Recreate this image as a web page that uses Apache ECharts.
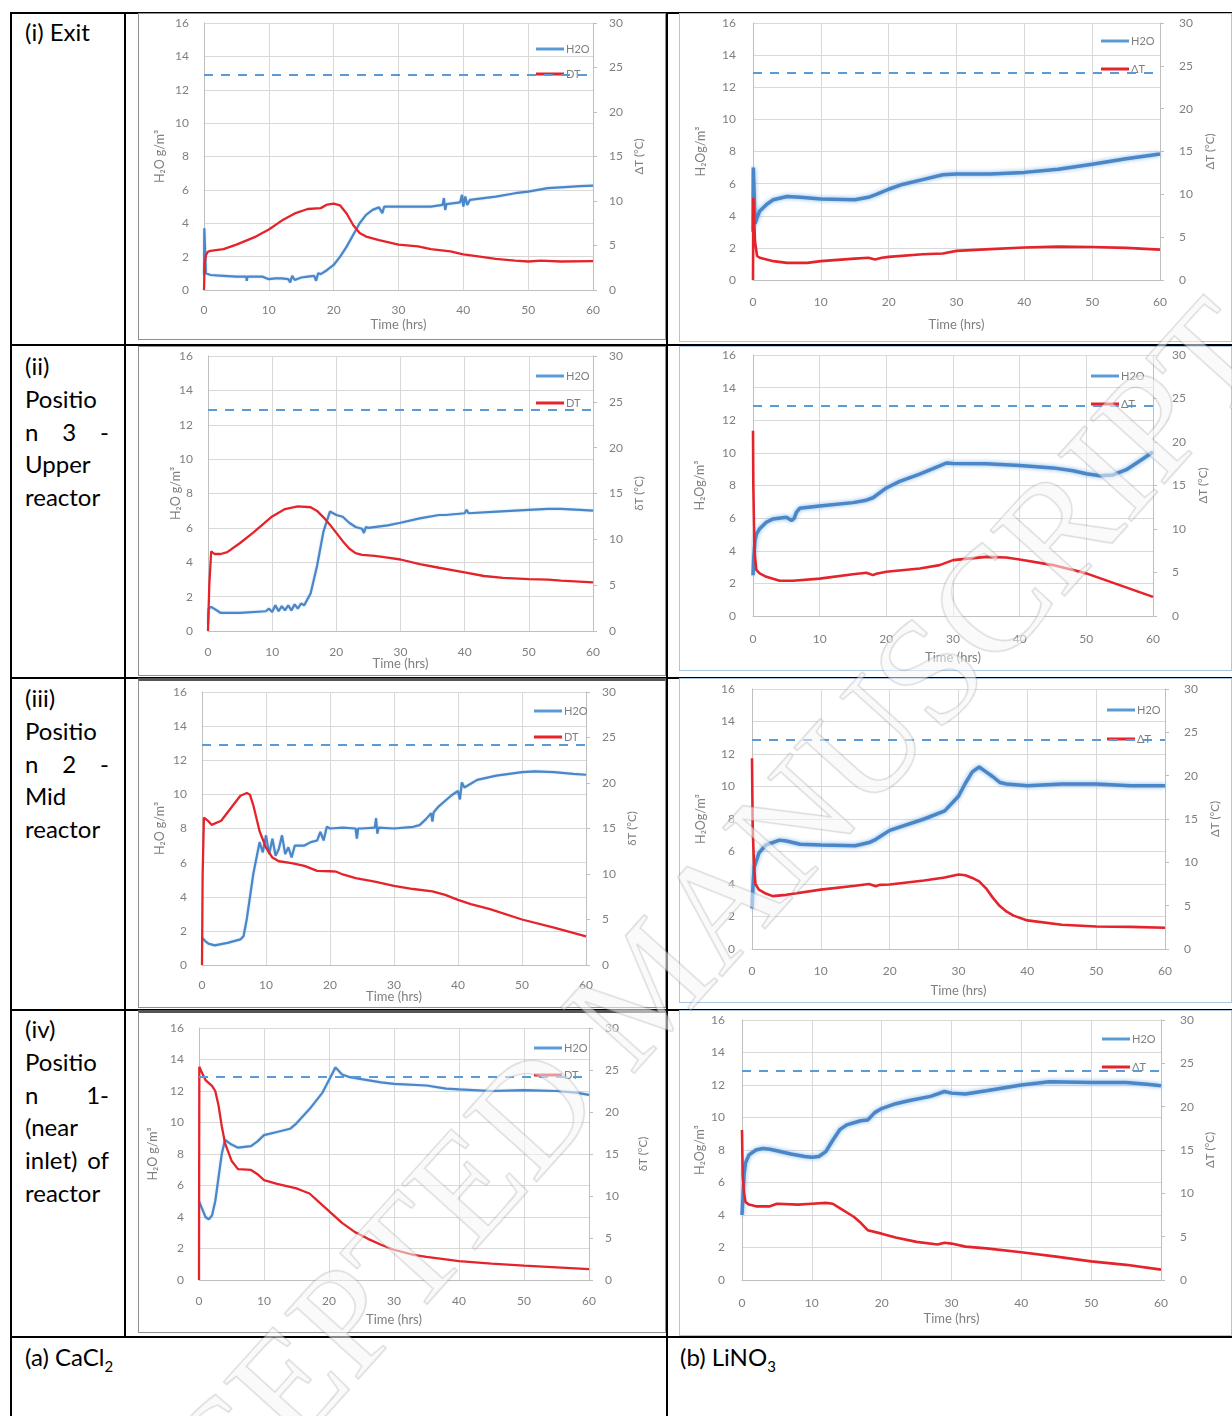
<!DOCTYPE html>
<html>
<head>
<meta charset="utf-8">
<script src="https://cdn.jsdelivr.net/npm/echarts/dist/echarts.min.js"></script>
<style>
  body { margin: 0; width: 1232px; height: 1416px; position: relative; background: #fff; overflow: hidden; font-family: Lato, "Open Sans", sans-serif; }
  .hl { position: absolute; height: 2px; background: #000; }
  .vl { position: absolute; width: 2px; background: #000; }
  .cell { position: absolute; left: 25px; width: 84px; font-size: 24px; line-height: 32.8px; color: #000; white-space: nowrap; }
  .cell div.j { text-align: justify; text-align-last: justify; }
  .bottom { position: absolute; font-size: 24px; line-height: 32px; color: #000; }
  .chart { position: absolute; box-sizing: border-box; border: 1px solid #9a9a9a; background: #fff; }
  .watermark { position: absolute; left: 645px; top: 985px; transform: translate(-50%, -50%) rotate(-48deg);
    font: 150px "Liberation Serif", "DejaVu Serif", serif; color: rgba(245,245,245,0.55);
    -webkit-text-stroke: 1.4px rgba(0,0,0,0.14); white-space: nowrap; pointer-events: none; z-index: 10; }
</style>
</head>
<body>

<!-- table rules -->
<div class="hl" style="left:10px;top:12px;width:1222px"></div>
<div class="hl" style="left:10px;top:344px;width:1222px"></div>
<div class="hl" style="left:10px;top:677px;width:1222px"></div>
<div class="hl" style="left:10px;top:1009px;width:1222px"></div>
<div class="hl" style="left:10px;top:1336px;width:1222px"></div>
<div class="vl" style="left:10px;top:12px;height:1404px"></div>
<div class="vl" style="left:124px;top:12px;height:1325px"></div>
<div class="vl" style="left:666px;top:12px;height:1404px"></div>

<!-- row labels -->
<div class="cell" style="top:16px"><div>(i) Exit</div></div>
<div class="cell" style="top:350px"><div>(ii)</div><div>Positio</div><div class="j">n 3 -</div><div>Upper</div><div>reactor</div></div>
<div class="cell" style="top:682px"><div>(iii)</div><div>Positio</div><div class="j">n 2 -</div><div>Mid</div><div>reactor</div></div>
<div class="cell" style="top:1013px"><div>(iv)</div><div>Positio</div><div class="j">n 1-</div><div>(near</div><div class="j">inlet) of</div><div>reactor</div></div>
<div class="bottom" style="left:25px;top:1341px">(a) CaCl<sub style="font-size:15px">2</sub></div>
<div class="bottom" style="left:680px;top:1341px">(b) LiNO<sub style="font-size:15px">3</sub></div>

<div id="charts"></div>
<div class="watermark">ACCEPTED MANUSCRIPT</div>

<script>
// ---- data: [time (hrs), value] ----
// H2O in g/m3 (left axis), temperature lift in degC (right axis)
const saturationH2O = 12.9;

const h2oExitCaCl2 = [[0,0.9],[0.05,3.7],[0.3,1.0],[1,0.9],[3,0.85],[5,0.8],[6.5,0.8],[6.6,0.55],[6.7,0.8],[9,0.8],[10,0.65],[11,0.7],[12,0.7],[13,0.65],[13.3,0.45],[13.6,0.85],[14,0.6],[15,0.75],[16,0.8],[17,0.85],[17.3,0.55],[17.6,1.0],[18,0.95],[19,1.2],[20,1.5],[21,2.0],[22,2.6],[23,3.3],[24,4.0],[25,4.5],[26,4.8],[27,4.95],[27.5,4.6],[27.8,5.0],[30,5.0],[33,5.0],[35,5.0],[36.8,5.1],[37,5.5],[37.2,4.8],[37.4,5.15],[39.5,5.25],[39.8,5.7],[40,5.0],[40.3,5.6],[40.6,5.1],[41,5.4],[45,5.6],[48,5.8],[50,5.9],[53,6.1],[55,6.15],[58,6.22],[60,6.25]];
const dtExitCaCl2 = [[0,0],[0.1,3.0],[0.3,3.9],[0.6,4.3],[1,4.4],[3,4.6],[5,5.1],[8,6.0],[10,6.8],[12,7.8],[14,8.6],[16,9.1],[18,9.2],[19,9.6],[20,9.7],[21,9.5],[22,8.6],[23,7.3],[24,6.4],[25,6.0],[27,5.6],[30,5.1],[33,4.9],[35,4.6],[38,4.35],[40,4.0],[42,3.8],[45,3.5],[48,3.3],[50,3.2],[52,3.3],[55,3.2],[60,3.25]];

const h2oExitLiNO3 = [[0,3.0],[0.05,7.0],[0.3,3.5],[0.7,4.0],[1,4.3],[2,4.7],[3,5.0],[5,5.2],[7,5.15],[10,5.05],[15,5.0],[17,5.15],[18,5.3],[20,5.65],[22,5.95],[25,6.25],[28,6.55],[30,6.6],[35,6.6],[40,6.7],[45,6.9],[50,7.2],[55,7.55],[60,7.85]];
const dtExitLiNO3 = [[0,0],[0.05,9.6],[0.3,4.5],[0.6,2.8],[1,2.6],[3,2.2],[5,2.0],[8,2.0],[10,2.2],[15,2.5],[17,2.6],[18,2.4],[19,2.6],[20,2.7],[25,3.0],[28,3.1],[30,3.4],[35,3.6],[40,3.8],[45,3.9],[50,3.85],[55,3.75],[60,3.55]];

const h2oUpperCaCl2 = [[0,0.4],[0.1,1.3],[0.5,1.4],[2,1.05],[5,1.05],[9,1.15],[9.5,1.3],[10,1.1],[10.5,1.5],[11,1.15],[11.5,1.45],[12,1.2],[12.5,1.5],[13,1.2],[13.5,1.55],[14,1.3],[14.5,1.6],[15,1.5],[16,2.2],[17,3.8],[18,5.8],[19,6.95],[20,6.75],[21,6.65],[22,6.3],[23,6.05],[24,5.95],[24.3,5.7],[24.6,6.05],[25,6.0],[28,6.15],[30,6.3],[33,6.55],[36,6.75],[37,6.75],[40,6.85],[40.3,7.05],[40.6,6.85],[45,6.95],[50,7.05],[53,7.1],[55,7.1],[58,7.05],[60,7.0]];
const dtUpperCaCl2 = [[0,0],[0.2,5],[0.5,8.7],[1,8.4],[2,8.4],[3,8.6],[5,9.6],[7,10.7],[9,11.9],[10,12.5],[12,13.3],[14,13.6],[16,13.5],[17,13.1],[18,12.4],[19,11.6],[20,10.7],[21,9.8],[22,9.0],[23,8.5],[24,8.3],[26,8.2],[28,8.0],[30,7.8],[33,7.3],[36,6.9],[40,6.4],[43,6.0],[46,5.8],[50,5.65],[53,5.6],[55,5.5],[60,5.3]];

const h2oUpperLiNO3 = [[0,2.5],[0.1,3.5],[0.3,4.6],[0.5,5.0],[1,5.35],[2,5.75],[3,5.95],[5,6.05],[5.8,5.85],[6.2,6.0],[6.5,6.35],[7,6.6],[10,6.75],[15,6.95],[17,7.1],[18,7.25],[20,7.85],[22,8.25],[25,8.7],[28,9.2],[29,9.38],[30,9.35],[35,9.33],[40,9.22],[45,9.08],[48,8.9],[50,8.72],[52,8.6],[54,8.65],[56,8.97],[58,9.5],[60,10.05]];
const dtUpperLiNO3 = [[0,21.3],[0.05,15],[0.2,8],[0.3,6.8],[0.5,5.3],[1,4.9],[2,4.5],[4,4.05],[6,4.05],[10,4.3],[15,4.8],[17,4.97],[18,4.7],[18.5,4.85],[20,5.08],[25,5.46],[28,5.85],[30,6.42],[35,6.8],[38,6.73],[40,6.5],[45,5.85],[50,4.9],[55,3.55],[60,2.2]];

const h2oMidCaCl2 = [[0,1.6],[0.5,1.4],[1,1.25],[2,1.15],[4,1.3],[6,1.5],[6.5,1.7],[7,2.7],[8,5.3],[9,7.2],[9.5,6.6],[10,7.6],[10.5,6.5],[11,7.4],[11.5,6.4],[12,6.8],[12.5,7.6],[13,6.5],[13.5,6.9],[14,6.3],[14.5,7.0],[16,7.0],[17,7.2],[18,7.3],[18.5,7.8],[19,7.3],[19.5,8.1],[20,8.0],[22,8.05],[24,8.0],[24.2,7.4],[24.4,8.0],[25,8.0],[27,8.05],[27.2,8.6],[27.4,7.7],[27.6,8.05],[30,8.0],[33,8.1],[34,8.2],[35,8.55],[35.8,8.9],[36,8.4],[36.2,8.95],[37,9.3],[39,9.95],[40,10.2],[40.3,9.7],[40.6,10.7],[41,10.4],[43,10.85],[46,11.1],[50,11.3],[52,11.35],[55,11.3],[58,11.2],[60,11.15]];
const dtMidCaCl2 = [[0,0],[0.1,10],[0.3,16.2],[0.5,16.4],[1,15.8],[1.5,15.4],[3,15.85],[5,17.7],[6,18.6],[7,18.9],[7.5,18.7],[8,17.6],[9,14.7],[10,12.9],[11,11.8],[12,11.4],[14,11.2],[16,10.9],[18,10.35],[20,10.3],[21,10.25],[22,9.95],[24,9.55],[27,9.15],[30,8.7],[33,8.35],[36,8.1],[38,7.7],[40,7.15],[42,6.7],[45,6.15],[50,5.0],[55,4.1],[60,3.15]];

const h2oMidLiNO3 = [[0,2.5],[0.1,3.5],[0.3,5.0],[1,5.9],[2,6.4],[4,6.7],[5,6.65],[7,6.45],[10,6.4],[15,6.35],[17,6.55],[18,6.75],[20,7.3],[25,8.0],[28,8.5],[30,9.4],[31,10.2],[32,10.9],[33,11.2],[34,10.9],[35,10.6],[36,10.25],[37,10.15],[40,10.05],[45,10.15],[50,10.15],[55,10.05],[60,10.05]];
const dtMidLiNO3 = [[0,22.0],[0.1,14],[0.3,9.5],[0.5,7.5],[1,6.85],[2,6.4],[3,6.1],[5,6.25],[10,6.85],[15,7.3],[17,7.5],[18,7.25],[18.5,7.4],[20,7.45],[25,7.9],[28,8.25],[30,8.6],[31,8.5],[32,8.2],[33,7.8],[34,7.0],[35,5.9],[36,4.95],[37,4.3],[38,3.85],[40,3.3],[45,2.8],[50,2.6],[55,2.55],[60,2.45]];

const h2oInletCaCl2 = [[0,5.0],[0.5,4.5],[1,4.0],[1.5,3.85],[2,4.1],[2.5,5.0],[3,6.5],[3.5,8.0],[4,8.9],[5,8.6],[6,8.4],[8,8.5],[9,8.8],[10,9.2],[12,9.4],[14,9.6],[15,9.95],[17,10.85],[19,11.9],[20,12.7],[21,13.5],[22,13.05],[23,12.9],[25,12.75],[28,12.55],[30,12.45],[35,12.35],[38,12.15],[40,12.1],[45,12.0],[50,12.05],[55,12.0],[58,11.9],[60,11.75]];
const dtInletCaCl2 = [[0,0],[0.05,25.4],[0.3,25.3],[0.5,24.6],[1,23.8],[2,23.1],[2.5,22.5],[3,20.8],[3.5,18.3],[4,16.3],[5,14.2],[6,13.2],[8,13.1],[9,12.6],[10,11.9],[12,11.45],[15,10.9],[16,10.6],[17,10.3],[18,9.6],[20,8.2],[22,6.8],[24,5.7],[26,4.9],[28,4.2],[30,3.6],[33,3.0],[35,2.75],[40,2.25],[45,1.95],[50,1.7],[55,1.5],[60,1.3]];

const h2oInletLiNO3 = [[0,4.0],[0.3,6.5],[0.5,7.2],[1,7.7],[2,8.0],[3,8.1],[4,8.05],[5,7.95],[7,7.75],[9,7.6],[10,7.55],[11,7.6],[12,7.9],[13,8.6],[14,9.25],[15,9.55],[17,9.8],[18,9.85],[19,10.3],[20,10.55],[22,10.85],[24,11.05],[27,11.3],[29,11.6],[30,11.5],[32,11.45],[35,11.65],[40,12.0],[44,12.2],[50,12.15],[55,12.15],[58,12.05],[60,11.95]];
const dtInletLiNO3 = [[0,17.3],[0.1,12],[0.3,10],[0.5,9.0],[1,8.7],[2,8.5],[4,8.5],[5,8.8],[8,8.7],[10,8.8],[12,8.9],[13,8.8],[14,8.3],[16,7.3],[17,6.6],[18,5.75],[20,5.35],[22,4.9],[25,4.4],[28,4.1],[29,4.3],[30,4.2],[32,3.85],[35,3.65],[40,3.2],[45,2.7],[50,2.15],[55,1.75],[60,1.2]];

// ---- the 8 panels ----
const panels = [
  { h2o: h2oExitCaCl2,  dt: dtExitCaCl2,  dtName: 'DT', yName: 'H\u2082O g/m\u00b3', rName: '\u0394T (\u00b0C)', salt: 'a' },
  { h2o: h2oExitLiNO3,  dt: dtExitLiNO3,  dtName: '\u0394T', yName: 'H\u2082Og/m\u00b3', rName: '\u0394T (\u00b0C)', salt: 'b' },
  { h2o: h2oUpperCaCl2, dt: dtUpperCaCl2, dtName: 'DT', yName: 'H\u2082O g/m\u00b3', rName: '\u03b4T (\u00b0C)', salt: 'a' },
  { h2o: h2oUpperLiNO3, dt: dtUpperLiNO3, dtName: '\u0394T', yName: 'H\u2082Og/m\u00b3', rName: '\u0394T (\u00b0C)', salt: 'b' },
  { h2o: h2oMidCaCl2,   dt: dtMidCaCl2,   dtName: 'DT', yName: 'H\u2082O g/m\u00b3', rName: '\u03b4T (\u00b0C)', salt: 'a' },
  { h2o: h2oMidLiNO3,   dt: dtMidLiNO3,   dtName: '\u0394T', yName: 'H\u2082Og/m\u00b3', rName: '\u0394T (\u00b0C)', salt: 'b' },
  { h2o: h2oInletCaCl2, dt: dtInletCaCl2, dtName: 'DT', yName: 'H\u2082O g/m\u00b3', rName: '\u03b4T (\u00b0C)', salt: 'a' },
  { h2o: h2oInletLiNO3, dt: dtInletLiNO3, dtName: '\u0394T', yName: 'H\u2082Og/m\u00b3', rName: '\u0394T (\u00b0C)', salt: 'b' }
];

// box = [left, top, width, height] on the page, grid = [left, top, right, bottom] inside the box
const layout = [
  { box: [138, 13, 528, 327],  grid: [65, 9, 72, 49], gapL: 38, gapR: 40, gapX: 28, mX: 14, leg: [392, 23, 11], border: '#8f8f8f' },
  { box: [679, 13, 553, 329],  grid: [73, 9, 71, 61], gapL: 46, gapR: 44, gapX: 38, mX: 16, leg: [416, 15, 14], border: '#a9c6e3' },
  { box: [138, 346, 528, 330], grid: [69, 9, 72, 44], gapL: 26, gapR: 40, gapX: 26, mX: 15, leg: [392, 17, 13], border: '#8f8f8f' },
  { box: [679, 346, 553, 325], grid: [73, 8, 78, 54], gapL: 47, gapR: 44, gapX: 35, mX: 17, leg: [406, 17, 14], border: '#a9c6e3' },
  { box: [138, 678, 528, 330], grid: [63, 11, 79, 42], gapL: 36, gapR: 40, gapX: 25, mX: 14, leg: [390, 18, 12], border: '#8f8f8f', topBorder: '3px solid #555' },
  { box: [679, 678, 553, 325], grid: [72, 10, 66, 53], gapL: 45, gapR: 44, gapX: 35, mX: 16, leg: [422, 19, 15], border: '#a9c6e3' },
  { box: [138, 1010, 528, 323], grid: [60, 15, 76, 52], gapL: 40, gapR: 48, gapX: 33, mX: 15, leg: [390, 23, 13], border: '#8f8f8f', topBorder: '3px solid #555' },
  { box: [679, 1010, 553, 326], grid: [62, 9, 70, 55], gapL: 36, gapR: 43, gapX: 32, mX: 17, leg: [417, 16, 14], border: '#a9c6e3' }
];

const grey = '#7f7f7f';
const gridGrey = '#d9d9d9';

function buildOption(p, L) {
  const thick = p.salt === 'b';
  const blue = {
    color: '#4a86c8', width: thick ? 3.5 : 2.2,
    shadowColor: thick ? 'rgba(120,175,230,0.9)' : 'rgba(120,175,230,0.5)', shadowBlur: thick ? 4 : 2
  };
  return {
    animation: false,
    textStyle: { fontFamily: 'Lato' },
    grid: { left: L.grid[0], top: L.grid[1], right: L.grid[2], bottom: L.grid[3], outerBoundsMode: 'none' },
    legend: {
      orient: 'vertical', left: L.leg[0], top: L.leg[1], itemGap: L.leg[2],
      itemWidth: 28, itemHeight: 3, icon: 'rect', selectedMode: false,
      textStyle: { color: grey, fontSize: 11, lineHeight: 14, padding: [0, 0, 0, -3] },
      data: ['H2O', p.dtName]
    },
    xAxis: {
      type: 'value', min: 0, max: 60, interval: 10,
      name: 'Time (hrs)', nameLocation: 'middle', nameGap: L.gapX, nameMoveOverlap: false,
      nameTextStyle: { color: grey, fontSize: 13 },
      axisLine: { show: true, lineStyle: { color: '#bfbfbf' } },
      axisTick: { show: false },
      axisLabel: { color: grey, fontSize: 12, margin: L.mX },
      splitLine: { show: true, lineStyle: { color: gridGrey, width: 1 } }
    },
    yAxis: [
      {
        type: 'value', min: 0, max: 16, interval: 2,
        name: p.yName, nameLocation: 'middle', nameGap: L.gapL, nameMoveOverlap: false,
        nameTextStyle: { color: grey, fontSize: 12.5 },
        axisLine: { show: true, lineStyle: { color: '#bfbfbf' } },
        axisTick: { show: false },
        axisLabel: { color: grey, fontSize: 12, margin: thick ? 17 : 15 },
        splitLine: { show: true, lineStyle: { color: gridGrey, width: 1 } }
      },
      {
        type: 'value', min: 0, max: 30, interval: 5, position: 'right',
        name: p.rName, nameLocation: 'middle', nameGap: L.gapR, nameMoveOverlap: false,
        nameTextStyle: { color: grey, fontSize: 11.5 },
        axisLine: { show: true, lineStyle: { color: '#bfbfbf' } },
        axisTick: { show: true, length: 4, lineStyle: { color: '#bfbfbf' } },
        axisLabel: { color: grey, fontSize: 12, margin: thick ? 19 : 16 },
        splitLine: { show: false }
      }
    ],
    series: [
      {
        name: 'H2O', type: 'line', data: p.h2o, showSymbol: false, symbol: 'none',
        color: '#5b9bd5', lineStyle: blue, z: 3,
        markLine: {
          silent: true, symbol: 'none', label: { show: false },
          lineStyle: { type: [9, 8], color: '#5b9bd5', width: 2 },
          data: [{ yAxis: saturationH2O }]
        }
      },
      {
        name: p.dtName, type: 'line', yAxisIndex: 1, data: p.dt, showSymbol: false, symbol: 'none',
        color: '#e5232b', lineStyle: { color: '#e5232b', width: thick ? 2.6 : 2.3 }, z: 4
      }
    ]
  };
}

const host = document.getElementById('charts');
panels.forEach((p, i) => {
  const L = layout[i];
  const div = document.createElement('div');
  div.className = 'chart';
  div.style.left = L.box[0] + 'px';
  div.style.top = L.box[1] + 'px';
  div.style.width = L.box[2] + 'px';
  div.style.height = L.box[3] + 'px';
  div.style.borderColor = L.border;
  if (L.topBorder) div.style.borderTop = L.topBorder;
  host.appendChild(div);
  const chart = echarts.init(div, null, { renderer: 'canvas' });
  chart.setOption(buildOption(p, L));
});
</script>
</body>
</html>
